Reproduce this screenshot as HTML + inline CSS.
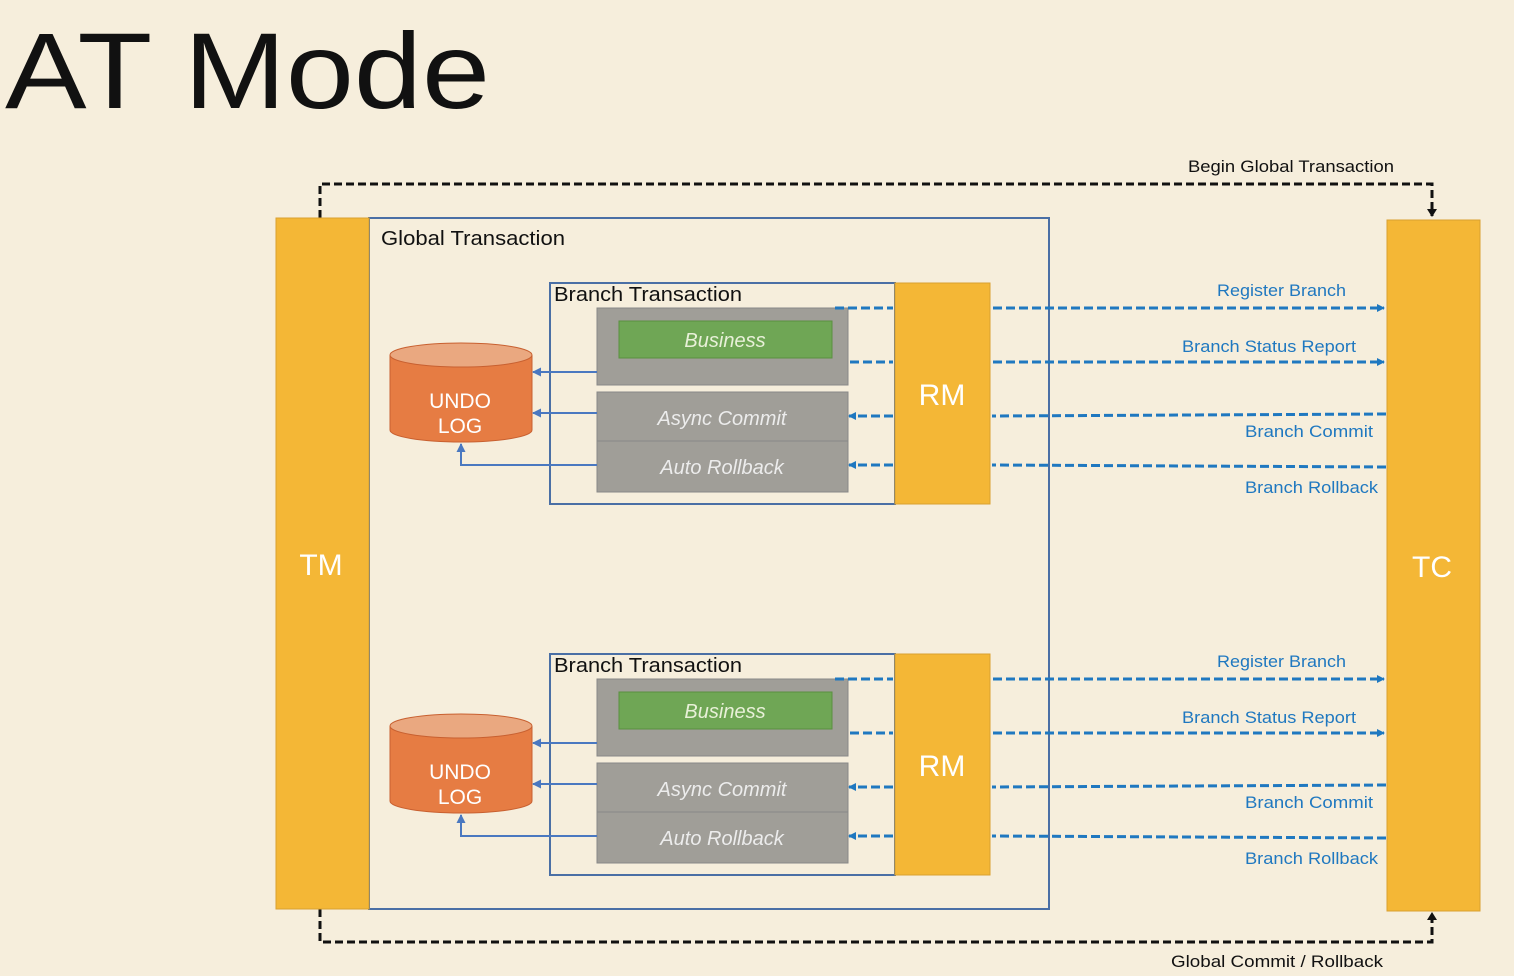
<!DOCTYPE html>
<html><head><meta charset="utf-8"><style>
html,body{margin:0;padding:0;background:#f6eedc;}
svg{display:block;font-family:"Liberation Sans",sans-serif;}
</style></head><body>
<svg width="1514" height="976" viewBox="0 0 1514 976" xmlns="http://www.w3.org/2000/svg">
<defs>
<marker id="ab" markerWidth="8" markerHeight="8" refX="7" refY="4" orient="auto" markerUnits="userSpaceOnUse"><path d="M0,0 L8,4 L0,8 z" fill="#1f78c0"/></marker>
<marker id="ak" markerWidth="8" markerHeight="10" refX="7" refY="5" orient="auto" markerUnits="userSpaceOnUse"><path d="M0,0 L8,5 L0,10 z" fill="#111"/></marker>
<marker id="as" markerWidth="9" markerHeight="9" refX="8" refY="4.5" orient="auto" markerUnits="userSpaceOnUse"><path d="M0,0 L9,4.5 L0,9 z" fill="#4a78c0"/></marker>
</defs>
<rect width="1514" height="976" fill="#f6eedc"/>
<text x="5" y="108" font-size="108" fill="#111" textLength="485" lengthAdjust="spacingAndGlyphs">AT Mode</text>

<path d="M320,218 V184 H1432 V216" fill="none" stroke="#111" stroke-width="3" stroke-dasharray="8,4" marker-end="url(#ak)"/>
<text x="1188" y="172" font-size="17" fill="#111" textLength="206" lengthAdjust="spacingAndGlyphs">Begin Global Transaction</text>
<path d="M320,909 V942 H1432 V913" fill="none" stroke="#111" stroke-width="3" stroke-dasharray="8,4" marker-end="url(#ak)"/>
<text x="1171" y="967" font-size="17" fill="#111" textLength="212" lengthAdjust="spacingAndGlyphs">Global Commit / Rollback</text>

<rect x="369" y="218" width="680" height="691" fill="none" stroke="#4a6fa5" stroke-width="2"/>
<text x="381" y="245" font-size="20" fill="#111" textLength="184" lengthAdjust="spacingAndGlyphs">Global Transaction</text>

<rect x="276" y="218" width="93" height="691" fill="#f4b736" stroke="#d9a030"/>
<text x="321" y="575" font-size="30" fill="#fff" text-anchor="middle">TM</text>
<rect x="1387" y="220" width="93" height="691" fill="#f4b736" stroke="#d9a030"/>
<text x="1432" y="577" font-size="30" fill="#fff" text-anchor="middle">TC</text>

<g id="br">
<rect x="550" y="283" width="345" height="221" fill="none" stroke="#4a6fa5" stroke-width="2"/>
<text x="554" y="301" font-size="20" fill="#111" textLength="188" lengthAdjust="spacingAndGlyphs">Branch Transaction</text>
<rect x="895" y="283" width="95" height="221" fill="#f4b736" stroke="#d9a030"/>
<text x="942" y="405" font-size="30" fill="#fff" text-anchor="middle">RM</text>
<rect x="597" y="308" width="251" height="77" fill="#a09e98" stroke="#888"/>
<rect x="619" y="321" width="213" height="37" fill="#6fa655" stroke="#5a9040"/>
<text x="725" y="347" font-size="20" font-style="italic" fill="#e8f0d8" text-anchor="middle">Business</text>
<rect x="597" y="392" width="251" height="49" fill="#a09e98" stroke="#888"/>
<text x="722" y="425" font-size="20" font-style="italic" fill="#ececec" text-anchor="middle">Async Commit</text>
<rect x="597" y="441" width="251" height="51" fill="#a09e98" stroke="#888"/>
<text x="722" y="474" font-size="20" font-style="italic" fill="#ececec" text-anchor="middle">Auto Rollback</text>
<path d="M390,355 V430 A71,12 0 0 0 532,430 V355" fill="#e67c43" stroke="#c86030"/>
<ellipse cx="461" cy="355" rx="71" ry="12" fill="#eaa880" stroke="#c86030"/>
<text x="460" y="408" font-size="21" fill="#fff" text-anchor="middle">UNDO</text>
<text x="460" y="433" font-size="21" fill="#fff" text-anchor="middle">LOG</text>
<line x1="597" y1="372" x2="533" y2="372" stroke="#4a78c0" stroke-width="2" marker-end="url(#as)"/>
<line x1="597" y1="413" x2="533" y2="413" stroke="#4a78c0" stroke-width="2" marker-end="url(#as)"/>
<path d="M597,465 H461 V444" fill="none" stroke="#4a78c0" stroke-width="2" marker-end="url(#as)"/>
<g stroke="#1f78c0" stroke-width="3" stroke-dasharray="9,4" fill="none">
<line x1="835" y1="308" x2="893" y2="308"/><line x1="993" y1="308" x2="1384" y2="308" marker-end="url(#ab)"/>
<line x1="850" y1="362" x2="893" y2="362"/><line x1="993" y1="362" x2="1384" y2="362" marker-end="url(#ab)"/>
<line x1="1386" y1="414" x2="992" y2="416"/><line x1="893" y1="416" x2="849" y2="416" marker-end="url(#ab)"/>
<line x1="1386" y1="467" x2="992" y2="465"/><line x1="893" y1="465" x2="849" y2="465" marker-end="url(#ab)"/>
</g>
<g font-size="17" fill="#1f78c0" lengthAdjust="spacingAndGlyphs">
<text x="1217" y="296" textLength="129" lengthAdjust="spacingAndGlyphs">Register Branch</text>
<text x="1182" y="352" textLength="174" lengthAdjust="spacingAndGlyphs">Branch Status Report</text>
<text x="1245" y="437" textLength="128" lengthAdjust="spacingAndGlyphs">Branch Commit</text>
<text x="1245" y="493" textLength="133" lengthAdjust="spacingAndGlyphs">Branch Rollback</text>
</g>
</g>
<use href="#br" transform="translate(0,371)"/>
</svg>
</body></html>
